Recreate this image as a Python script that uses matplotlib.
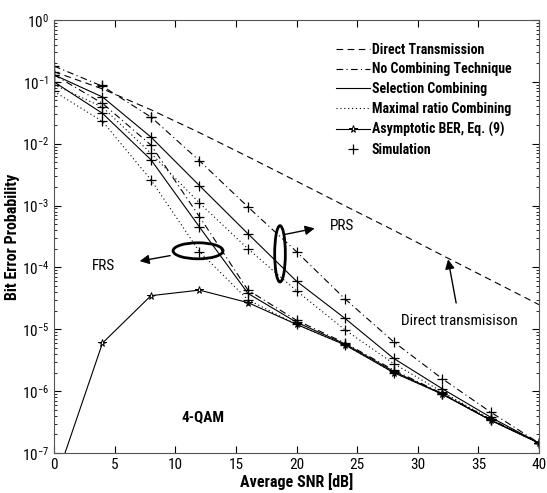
import matplotlib
matplotlib.use("Agg")
import matplotlib.pyplot as plt
from matplotlib.patches import Ellipse
import matplotlib.font_manager as fm

names = {f.name for f in fm.fontManager.ttflist}
cands = ['Liberation Sans Narrow', 'Arial Narrow', 'Roboto Condensed', 'Open Sans Condensed']
fam = next((c for c in cands if c in names), None)
STRETCH = 'normal'
if fam is None:
    has_dv_cond = any(f.name == 'DejaVu Sans' and f.stretch in ('condensed', 'semi-condensed')
                      for f in fm.fontManager.ttflist)
    if has_dv_cond:
        fam = 'DejaVu Sans'
        STRETCH = 'condensed'
    else:
        fam = 'Liberation Sans'
plt.rcParams['font.family'] = [fam, 'DejaVu Sans']
plt.rcParams['font.stretch'] = STRETCH
plt.rcParams['mathtext.fontset'] = 'custom'
plt.rcParams['mathtext.rm'] = fam + (':stretch=condensed' if STRETCH == 'condensed' else '')
plt.rcParams['mathtext.it'] = fam + (':stretch=condensed' if STRETCH == 'condensed' else '')

snr = [0, 4, 8, 12, 16, 20, 24, 28, 32, 36, 40]

direct = [0.146, 0.077, 0.0354, 0.0151, 0.00617, 0.00248, 9.9e-4, 4.0e-4, 1.58e-4, 6.3e-5, 2.5e-5]

nc_prs = [0.18, 0.085, 0.027, 5.3e-3, 9.5e-4, 1.8e-4, 3.1e-5, 6.3e-6, 1.6e-6, 4.6e-7, 1.45e-7]
sc_prs = [0.13, 0.057, 0.0128, 2.1e-3, 3.5e-4, 6.0e-5, 1.5e-5, 3.4e-6, 1.1e-6, 3.8e-7, 1.45e-7]
mrc_prs = [0.09, 0.039, 7.0e-3, 1.1e-3, 2.0e-4, 4.2e-5, 9.8e-6, 2.8e-6, 9.8e-7, 3.5e-7, 1.45e-7]

nc_frs = [0.13, 0.045, 9.5e-3, 6.6e-4, 4.3e-5, 1.4e-5, 6.0e-6, 2.2e-6, 9.2e-7, 3.5e-7, 1.45e-7]
sc_frs = [0.1, 0.031, 5.5e-3, 4.5e-4, 3.8e-5, 1.3e-5, 5.8e-6, 2.1e-6, 9.0e-7, 3.4e-7, 1.45e-7]
mrc_frs = [0.07, 0.023, 2.6e-3, 1.8e-4, 3.0e-5, 1.2e-5, 5.6e-6, 2.0e-6, 9.0e-7, 3.4e-7, 1.45e-7]

asym = [3e-8, 6.0e-6, 3.5e-5, 4.3e-5, 2.7e-5, 1.2e-5, 5.6e-6, 2.0e-6, 9.0e-7, 3.4e-7, 1.45e-7]

sim_direct_snr = [0, 4, 8]
sim_direct = [0.146, 0.089, 0.027]

yticks = [1e-7, 1e-6, 1e-5, 1e-4, 1e-3, 1e-2, 1e-1, 1e0]
ytick_labels = [r'$10^{-7}$', r'$10^{-6}$', r'$10^{-5}$', r'$10^{-4}$', r'$10^{-3}$', r'$10^{-2}$',
                r'$10^{-1}$', r'$10^{0}$']
xticks = [0, 5, 10, 15, 20, 25, 30, 35, 40]

fig = plt.figure(figsize=(5.47, 4.93), dpi=100)
ax = fig.add_axes([0.0987, 0.0811, 0.8867, 0.8783])

lw = 0.8
ax.plot(snr, direct, color='k', lw=lw, ls=(0, (6, 4)), label='Direct Transmission')
ax.plot(snr, nc_prs, color='k', lw=lw, ls=(0, (6, 3, 1, 3)), label='No Combining Technique')
ax.plot(snr, nc_frs, color='k', lw=lw, ls=(0, (6, 3, 1, 3)))
ax.plot(snr, sc_prs, color='k', lw=lw, ls='-', label='Selection Combining')
ax.plot(snr, sc_frs, color='k', lw=lw, ls='-')
ax.plot(snr, mrc_prs, color='k', lw=lw, ls=(0, (1, 2.5)), label='Maximal ratio Combining')
ax.plot(snr, mrc_frs, color='k', lw=lw, ls=(0, (1, 2.5)))
ax.plot(snr, asym, color='k', lw=lw, ls='-', marker='*', ms=5.5, mfc='white', mec='k', mew=0.7,
        label='Asymptotic BER, Eq. (9)')

pk = dict(ls='none', marker='+', ms=7.5, mew=0.9, color='k')
ax.plot(snr, nc_prs, label='Simulation', **pk)
for s in (sc_prs, mrc_prs, nc_frs, sc_frs, mrc_frs):
    ax.plot(snr, s, **pk)
ax.plot(sim_direct_snr, sim_direct, **pk)

ax.set_yscale('log')
ax.set_xlim(0, 40)
ax.set_ylim(1e-7, 1)
ax.set_xticks(xticks)
ax.set_yticks(yticks)
ax.set_yticklabels(ytick_labels)
ax.tick_params(which='both', direction='in', top=True, right=True, labelsize=11)
ax.tick_params(which='major', length=5)
ax.tick_params(which='minor', length=2.5)
for sp in ax.spines.values():
    sp.set_linewidth(0.8)
    sp.set_color('#555555')

ax.set_xlabel('Average SNR [dB]', fontsize=11.5, fontweight='bold', labelpad=1)
ax.set_ylabel('Bit Error Probability', fontsize=11.5, fontweight='bold', labelpad=1)

leg = ax.legend(loc='upper left', bbox_to_anchor=(0.582, 0.948), frameon=False,
                prop={'weight': 'bold', 'size': 10, 'family': [fam, 'DejaVu Sans'], 'stretch': STRETCH},
                handlelength=2.4, handletextpad=0.15, labelspacing=0.42, borderaxespad=0, borderpad=0)

# Annotations (axes-fraction positioned)
ax.add_patch(Ellipse((0.297, 0.467), 0.103, 0.037, transform=ax.transAxes, fill=False, lw=2.0, ec='k'))
ax.add_patch(Ellipse((0.466, 0.46), 0.022, 0.13, transform=ax.transAxes, fill=False, lw=2.0, ec='k'))
ax.annotate('', xy=(0.171, 0.442), xycoords='axes fraction', xytext=(0.245, 0.457),
            textcoords='axes fraction', arrowprops=dict(arrowstyle='-|>', color='k', lw=1.0, mutation_scale=14))
ax.annotate('', xy=(0.543, 0.52), xycoords='axes fraction', xytext=(0.468, 0.503),
            textcoords='axes fraction', arrowprops=dict(arrowstyle='-|>', color='k', lw=1.0, mutation_scale=14))
ax.text(0.078, 0.431, 'FRS', transform=ax.transAxes, fontsize=11, va='center', ha='left')
ax.text(0.568, 0.524, 'PRS', transform=ax.transAxes, fontsize=11, va='center', ha='left')
ax.annotate('Direct transmisison', xy=(32.5, 1.35e-4), xytext=(0.836, 0.305), textcoords='axes fraction',
            fontsize=11, ha='center', va='center',
            arrowprops=dict(arrowstyle='-|>', color='k', lw=1.0, mutation_scale=14, shrinkA=6, shrinkB=0))
ax.text(0.307, 0.082, '4-QAM', transform=ax.transAxes, fontsize=11, fontweight='bold', ha='center', va='center')

fig.savefig('out.png', dpi=100)
